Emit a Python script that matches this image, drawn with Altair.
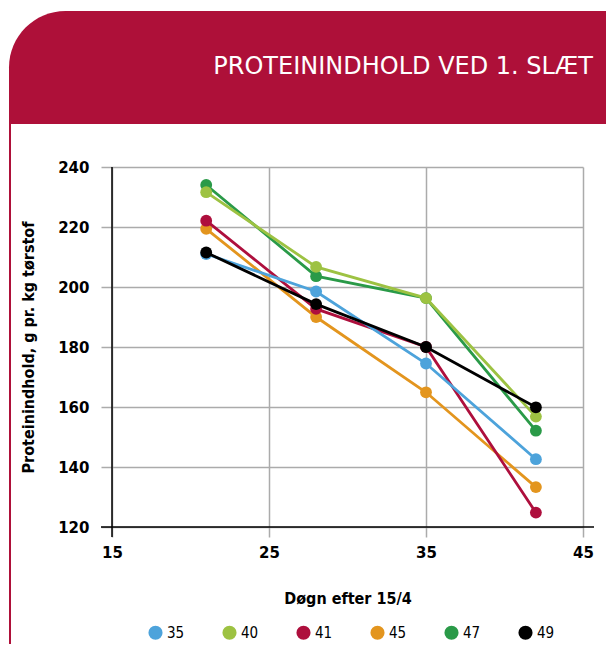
import altair as alt
import pandas as pd

days = [21, 28, 35, 42]
series_names = ["35", "40", "41", "45", "47", "49"]
series_colors = ["#4DA3DB", "#9DC242", "#AE0F3D", "#E3951E", "#2A9A48", "#000000"]
v35 = [211.0, 198.5, 174.5, 142.6]
v40 = [231.6, 206.7, 196.3, 156.8]
v41 = [222.1, 192.7, 180.0, 124.8]
v45 = [219.4, 190.0, 164.9, 133.3]
v47 = [234.0, 203.6, 196.3, 152.1]
v49 = [211.5, 194.3, 180.0, 159.9]
draw_order = ["45", "41", "35", "47", "40", "49"]
x_ticks = [15, 25, 35, 45]
y_ticks = [120, 140, 160, 180, 200, 220, 240]
title_text = "PROTEININDHOLD VED 1. SLÆT"
x_title = "Døgn efter 15/4"
y_title = "Proteinindhold, g pr. kg tørstof"

values = dict(zip(series_names, [v35, v40, v41, v45, v47, v49]))
rows = []
for name in series_names:
    for d, v in zip(days, values[name]):
        rows.append({"serie": name, "day": d, "protein": v})
df = pd.DataFrame(rows)

RED = "#AE1039"
GRID = "#ababab"

color_scale = alt.Scale(domain=series_names, range=series_colors)
legend = alt.Legend(orient="none", legendX=36, legendY=458,
                    direction="horizontal", title=None,
                    symbolType="circle", symbolSize=200,
                    symbolStrokeWidth=0, symbolOpacity=1,
                    labelFont="DejaVu Sans Condensed", labelFontSize=15,
                    labelColor="black", labelOffset=4,
                    columnPadding=37, padding=0)
color = alt.Color("serie:N", scale=color_scale, legend=legend)

xs = alt.X("day:Q", scale=alt.Scale(domain=[15, 45], nice=False, zero=False),
           axis=alt.Axis(values=x_ticks, title=x_title, grid=True, gridColor=GRID, gridWidth=1.5,
                         domain=False, tickColor=GRID, tickSize=10, tickWidth=1.5,
                         labelFont="DejaVu Sans", labelFontWeight="bold", labelFontSize=15,
                         labelColor="black", labelPadding=8, labelFlush=False,
                         titleFont="DejaVu Sans Condensed", titleFontWeight="bold",
                         titleFontSize=16, titleColor="black", titlePadding=30))
ys = alt.Y("protein:Q", scale=alt.Scale(domain=[120, 240], nice=False, zero=False),
           axis=alt.Axis(values=y_ticks, title=y_title, grid=True, gridColor=GRID, gridWidth=1.5,
                         domain=False, tickColor=GRID, tickSize=11, tickWidth=1.5,
                         labelFont="DejaVu Sans", labelFontWeight="bold", labelFontSize=15,
                         labelColor="black", labelPadding=12,
                         titleFont="DejaVu Sans Condensed", titleFontWeight="bold",
                         titleFontSize=16, titleColor="black", titlePadding=21))

one = pd.DataFrame({"a": [0]})
header = alt.Chart(one).mark_rect(color=RED, cornerRadiusTopLeft=110).encode(
    x=alt.value(-103), x2=alt.value(494), y=alt.value(-156), y2=alt.value(-43))
border = alt.Chart(one).mark_rule(color=RED, strokeWidth=2).encode(
    x=alt.value(-102), y=alt.value(-44), y2=alt.value(477))
title = alt.Chart(one).mark_text(text=title_text, align="right", baseline="alphabetic",
                                 font="DejaVu Sans", fontSize=24, color="white").encode(
    x=alt.value(481), y=alt.value(-93))

xaxis_rule = alt.Chart(pd.DataFrame({"protein": [120]})).mark_rule(color="black", strokeWidth=1.5).encode(
    y=ys, x=alt.value(-11), x2=alt.value(482))
yaxis_rule = alt.Chart(pd.DataFrame({"day": [15]})).mark_rule(color="black", strokeWidth=1.5).encode(
    x=xs, y=alt.value(0), y2=alt.value(370))

layers = [header, border, title, xaxis_rule, yaxis_rule]
for name in draw_order:
    base = alt.Chart(df).transform_filter(alt.datum.serie == name)
    line = base.mark_line(strokeWidth=2.8).encode(x=xs, y=ys, color=color)
    pts = base.mark_point(filled=True, opacity=1, size=140, shape="circle").encode(
        x=xs, y=ys, color=color)
    layers += [line, pts]

chart = alt.layer(*layers).properties(
    width=471, height=360,
    padding={"left": 104, "top": 159, "right": 23, "bottom": 117},
    autosize=alt.AutoSizeParams(type="none"),
    background="white",
).configure_view(stroke=None)

chart.save("out.html", embed_options={"renderer": "svg", "actions": False})
